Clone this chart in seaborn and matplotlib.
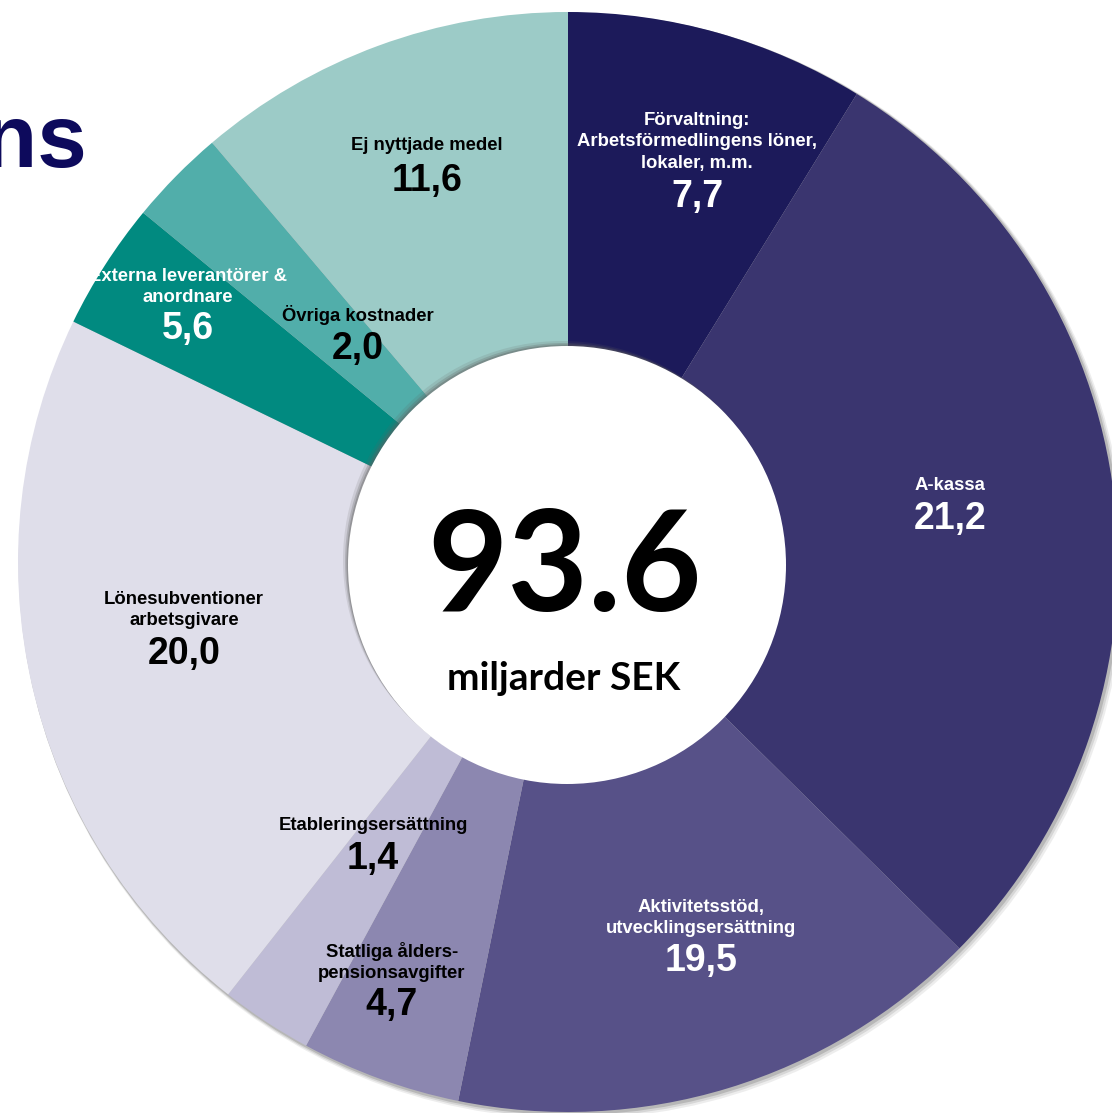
import matplotlib.pyplot as plt
import seaborn as sns
from matplotlib.patches import Circle

# budget posts, clockwise from 12 o'clock
categories = [
    "Förvaltning:\nArbetsförmedlingens löner,\nlokaler, m.m.",
    "A-kassa",
    "Aktivitetsstöd,\nutvecklingsersättning",
    "Statliga ålders-\npensionsavgifter",
    "Etableringsersättning",
    "Lönesubventioner\narbetsgivare",
    "Externa leverantörer &\nanordnare",
    "Övriga kostnader",
    "Ej nyttjade medel",
]
# printed values (miljarder SEK)
values = [7.7, 21.2, 19.5, 4.7, 1.4, 20.0, 5.6, 2.0, 11.6]
value_labels = ["7,7", "21,2", "19,5", "4,7", "1,4", "20,0", "5,6", "2,0", "11,6"]
# slice sizes as drawn in the original (percent of the ring)
shares = [8.8, 28.6, 15.8, 4.7, 2.7, 21.6, 3.75, 2.85, 11.2]
total_label = "93.6"
unit_label = "miljarder SEK"

colors = ["#1c1a5a", "#3a356f", "#575188", "#8c87b0", "#bfbcd6",
          "#dfdeea", "#018a80", "#51aeaa", "#9ccbc7"]
text_colors = ["white", "white", "white", "black", "black",
               "black", "white", "black", "black"]

# label placement in pixels (x, name centre y, value centre y)
label_pos = [(697, 142, 197), (950, 486, 519), (701, 918, 961),
             (392, 962, 1005), (373, 826, 859), (184, 610, 654),
             (188, 287, 329), (358, 315, 349), (427, 146, 181)]

W, H = 1112, 1113
cx, cy, R = 568, 562, 550
hx, hy, r_hole = 567, 565, 219

sns.set_theme(style="white")
palette = sns.color_palette(colors)

fig = plt.figure(figsize=(W / 100, H / 100), dpi=100)
ax = fig.add_axes([0, 0, 1, 1])

# soft shadow under the ring
for k, a in zip([7, 5, 3], [0.12, 0.18, 0.3]):
    ax.add_patch(Circle((cx + k * 0.6, cy + k * 0.6), R + k * 0.4,
                        color="#707070", alpha=a, lw=0, zorder=0))

ax.pie(shares, colors=palette, startangle=-90, counterclock=True,
       center=(cx, cy), radius=R, wedgeprops=dict(linewidth=0),
       frame=False)
for w in ax.patches[3:]:
    w.set_zorder(1)

# hole with inset shadow on the upper left
for k, a in zip([5, 3, 1.5], [0.15, 0.25, 0.35]):
    ax.add_patch(Circle((hx - k, hy - k), r_hole, color="#606060",
                        alpha=a, lw=0, zorder=2))
ax.add_patch(Circle((hx, hy), r_hole, color="white", lw=0, zorder=3))

ax.set_xlim(0, W)
ax.set_ylim(H, 0)
ax.set_aspect("equal")
ax.axis("off")

for name, val, col, (x, ny, vy) in zip(categories, value_labels,
                                         text_colors, label_pos):
    ax.text(x, ny, name, ha="center", va="center", color=col,
            fontsize=13.3, fontweight="bold", family="Liberation Sans",
            linespacing=1.32, zorder=5)
    ax.text(x, vy, val, ha="center", va="center", color=col,
            fontsize=27, fontweight="bold", family="Liberation Sans",
            zorder=5)

ax.text(hx - 2, 571, total_label, ha="center", va="center", color="black",
        fontsize=100, fontweight="bold", family="Lato", zorder=5)
ax.text(hx - 3, 679, unit_label, ha="center", va="center", color="black",
        fontsize=28, fontweight="bold", family="Lato", zorder=5)

# tail of the cut-off slide title
ax.text(87, 167, "ns", ha="right", va="baseline", color="#0d0a5c",
        fontsize=64, fontweight="bold", family="Liberation Sans", zorder=5)

fig.savefig("out.png", dpi=100)
